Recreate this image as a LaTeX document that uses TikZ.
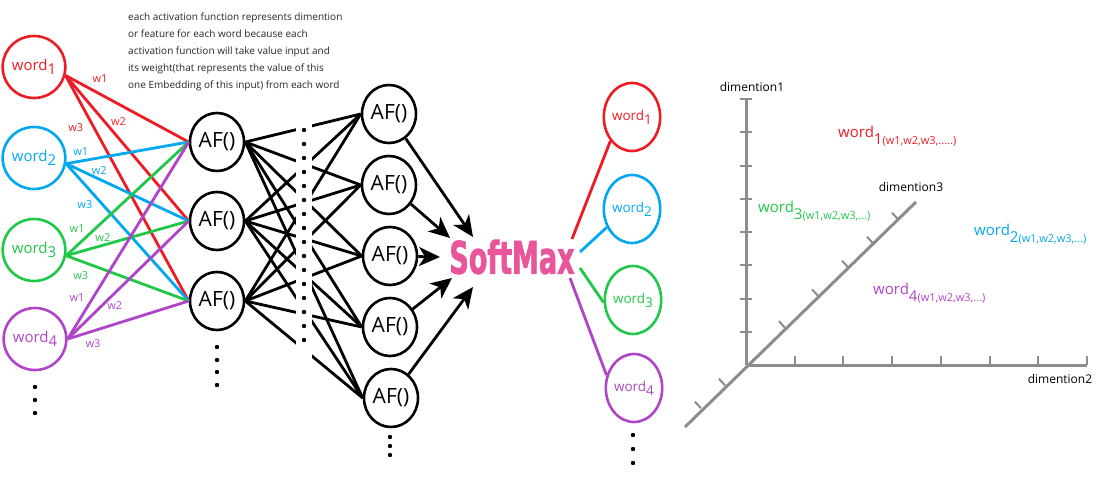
\documentclass[tikz,border=0pt]{standalone}
\usepackage{fontspec}
\setmainfont{Open Sans}
\newfontfamily\smfont[FakeStretch=0.6,FakeBold=1.3]{DejaVu Sans Bold}
\usetikzlibrary{shapes.geometric,arrows.meta,calc}

\definecolor{wred}{RGB}{237,28,36}
\definecolor{wblue}{RGB}{0,168,240}
\definecolor{wgreen}{RGB}{32,200,72}
\definecolor{wpurple}{RGB}{176,68,200}
\definecolor{smpink}{RGB}{232,85,154}
\definecolor{axgray}{RGB}{140,140,140}

\newcommand{\wrd}[1]{word\raisebox{-0.55ex}{#1}}
\newcommand{\wvec}[2]{word\raisebox{-7pt}{#1\fontsize{11}{11}\selectfont(w1,w2,w3,#2)}}

\tikzset{
  inword/.style={ellipse, draw, line width=2.6pt, minimum width=57pt, minimum height=62pt, inner sep=0pt, font=\fontsize{15}{15}\selectfont},
  outword/.style={ellipse, draw, line width=2.6pt, minimum width=55pt, minimum height=68pt, inner sep=0pt, font=\fontsize{13.5}{13.5}\selectfont},
  af/.style={ellipse, draw, line width=2.6pt, minimum width=54pt, minimum height=58pt, inner sep=0pt, font=\fontsize{21}{21}\selectfont},
  wire/.style={line width=2.8pt},
  lab/.style={font=\fontsize{11}{11}\selectfont, inner sep=0pt},
  arr/.style={line width=2.8pt, -{Stealth[length=21pt,width=19pt,inset=6pt]}},
  axline/.style={axgray, line width=3pt},
  axtick/.style={axgray, line width=2pt},
  dimlab/.style={font=\fontsize{12}{12}\selectfont}
}

\begin{document}
\begin{tikzpicture}[x=1pt, y=-1pt]
  \useasboundingbox (0,0) rectangle (1096,492);

  % note
  \node[anchor=north west, align=left, inner sep=0pt, font=\fontsize{10}{17}\selectfont, text=black!85] (note) at (128,13) {each activation function represents dimention\\or feature for each word because each\\activation function will take value input and\\its weight(that represents the value of this\\one Embedding of this input) from each word};

  % input words
  \node[inword, draw=wred, text=wred] (in1) at (34,67) {\wrd{1}};
  \node[inword, draw=wblue, text=wblue] (in2) at (34,158) {\wrd{2}};
  \node[inword, draw=wgreen, text=wgreen] (in3) at (34,250) {\wrd{3}};
  \node[inword, draw=wpurple, text=wpurple] (in4) at (35,339) {\wrd{4}};
  \foreach \y in {387,400,413} \fill (35,\y) circle (2.2pt);

  % first layer
  \node[af] (h1) at (217,142) {AF()};
  \node[af] (h2) at (217,221) {AF()};
  \node[af] (h3) at (217,301) {AF()};
  \foreach \y in {347,360,372,385} \fill (217,\y) circle (2.2pt);

  % weights
  \draw[wire, wred] (in1.-15) -- node[lab, pos=0.28, yshift=16pt] {w1} (h1.west);
  \draw[wire, wred] (in1.-15) -- node[lab, pos=0.43, yshift=17pt] {w2} (h2.west);
  \draw[wire, wred] (in1.-15) -- node[lab, pos=0.23, xshift=-18pt] {w3} (h3.west);
  \draw[wire, wblue] (in2.-10) -- node[lab, pos=0.12, yshift=9pt] {w1} (h1.west);
  \draw[wire, wblue] (in2.-10) -- node[lab, pos=0.27, yshift=9pt] {w2} (h2.west);
  \draw[wire, wblue] (in2.-10) -- node[lab, pos=0.30, xshift=-18pt] {w3} (h3.west);
  \draw[wire, wgreen] (in3.-10) -- node[lab, pos=0.09, yshift=17pt] {w1} (h1.west);
  \draw[wire, wgreen] (in3.-10) -- node[lab, pos=0.30, yshift=8pt] {w2} (h2.west);
  \draw[wire, wgreen] (in3.-10) -- node[lab, pos=0.12, yshift=-14pt] {w3} (h3.west);
  \draw[wire, wpurple] (in4.east) -- node[lab, pos=0.21, xshift=-16pt] {w1} (h1.west);
  \draw[wire, wpurple] (in4.east) -- node[lab, pos=0.39, yshift=-13pt] {w2} (h2.west);
  \draw[wire, wpurple] (in4.east) -- node[lab, pos=0.21, yshift=-13pt] {w3} (h3.west);

  % second layer
  \node[af] (g1) at (389,114) {AF()};
  \node[af] (g2) at (389,185) {AF()};
  \node[af] (g3) at (390,256) {AF()};
  \node[af] (g4) at (390,327) {AF()};
  \node[af] (g5) at (391,398) {AF()};
  \foreach \y in {437,446,455} \fill (390,\y) circle (2.2pt);

  \foreach \a in {h1,h2,h3}
    \foreach \b in {g1,g2,g3,g4,g5}
      \draw[wire] (\a.east) -- (\b.west);
  \fill[white] (296,118) rectangle (312,362);
  \foreach \y in {130,144,...,350} \fill (304,\y) circle (2.2pt);

  % softmax
  \node[text=smpink, inner sep=0pt] (sm) at (512,257) {\smfont\fontsize{45}{45}\selectfont SoftMax};
  \coordinate (t1) at (473,237);
  \coordinate (t2) at (450,238);
  \coordinate (t3) at (440,257);
  \coordinate (t4) at (452,278);
  \coordinate (t5) at (473,287);
  \draw[arr] (g1) -- (t1);
  \draw[arr] (g2) -- (t2);
  \draw[arr] (g3) -- (t3);
  \draw[arr] (g4) -- (t4);
  \draw[arr] (g5) -- (t5);

  % output words
  \node[outword, draw=wred, text=wred] (o1) at (632,117) {\wrd{1}};
  \node[outword, draw=wblue, text=wblue] (o2) at (632,209) {\wrd{2}};
  \node[outword, draw=wgreen, text=wgreen] (o3) at (633,300) {\wrd{3}};
  \node[outword, draw=wpurple, text=wpurple] (o4) at (634,388) {\wrd{4}};
  \foreach \y in {435,449,463} \fill (633,\y) circle (2.2pt);

  \coordinate (s1) at (572,239);
  \coordinate (s2) at (580,252);
  \coordinate (s3) at (580,268);
  \coordinate (s4) at (570,278);
  \draw[wire, wred] (s1) -- (o1.228);
  \draw[wire, wblue] (s2) -- (o2.216);
  \draw[wire, wgreen] (s3) -- (o3.185);
  \draw[wire, wpurple] (s4) -- (o4.155);

  % embedding space
  \coordinate (O) at (746,365);
  \coordinate (d1) at (746,99);
  \coordinate (d2) at (1087,365);
  \coordinate (d3) at (916,202);
  \coordinate (d3low) at (685,427);
  \draw[axline] (O) -- (d1);
  \draw[axline] (O) -- (d2);
  \draw[axline] (d3low) -- (d3);
  \foreach \y in {99,132.3,165.6,198.9,232.1,265.4,298.7,332}
    \draw[axtick] (740,\y) -- (752,\y);
  \foreach \x in {794.7,843.4,892.1,940.9,989.6,1038.3,1087}
    \draw[axtick] (\x,365) -- (\x,356);
  \foreach \t in {-0.265,-0.124,0.229,0.424,0.6,0.747,0.894}
    \draw[axtick] ($(O)!\t!(d3)$) -- ++(-6,-6.5);

  \node[dimlab] (n1) at (752,87) {dimention1};
  \node[dimlab] (n3) at (911,187) {dimention3};
  \node[dimlab] (n2) at (1060,379) {dimention2};

  \node[anchor=base west, inner sep=0pt, text=wred, font=\fontsize{15}{15}\selectfont] (v1) at (838,138) {\wvec{1}{.....}};
  \node[anchor=base west, inner sep=0pt, text=wgreen, font=\fontsize{15}{15}\selectfont] (v3) at (758,213) {\wvec{3}{...}};
  \node[anchor=base west, inner sep=0pt, text=wblue, font=\fontsize{15}{15}\selectfont] (v2) at (974,236) {\wvec{2}{...}};
  \node[anchor=base west, inner sep=0pt, text=wpurple, font=\fontsize{15}{15}\selectfont] (v4) at (873,294) {\wvec{4}{...}};
\end{tikzpicture}
\end{document}
